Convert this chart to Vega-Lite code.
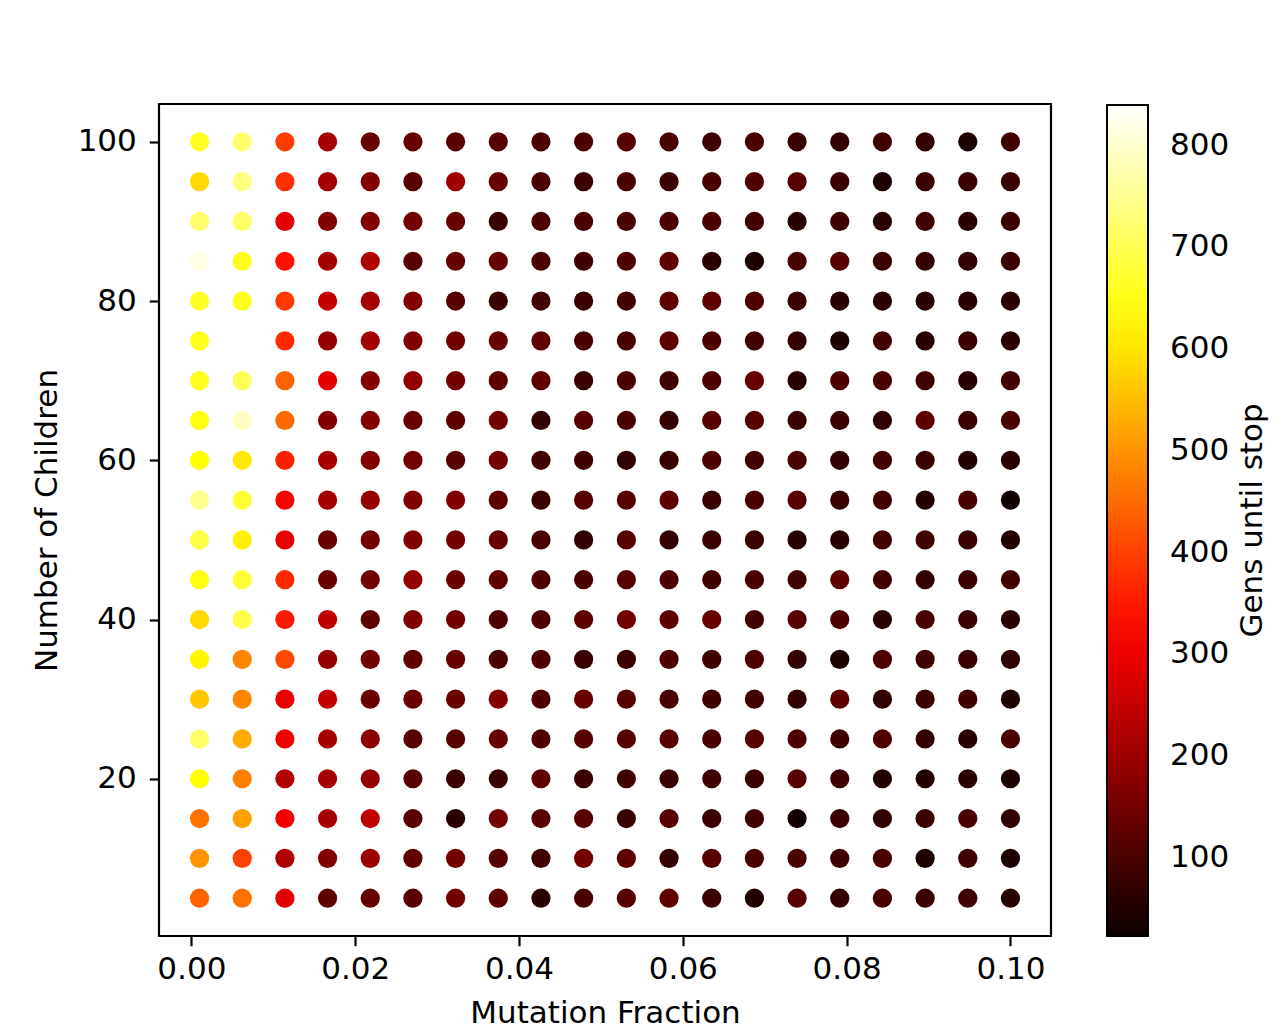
{
"$schema":"https://vega.github.io/schema/vega-lite/v6.json",
"width":892,"height":832,
"autosize":{"type":"none"},
"padding":{"left":159,"top":104,"right":236,"bottom":96},
"background":"white",
"data":{"values":[
{"m":0.001,"n":100,"g":660},{"m":0.00621,"n":100,"g":720},{"m":0.01142,"n":100,"g":395},{"m":0.01663,"n":100,"g":210},{"m":0.02184,"n":100,"g":135},{"m":0.02705,"n":100,"g":135},{"m":0.03226,"n":100,"g":116},{"m":0.03747,"n":100,"g":116},{"m":0.04268,"n":100,"g":100},{"m":0.04789,"n":100,"g":100},{"m":0.05311,"n":100,"g":116},{"m":0.05832,"n":100,"g":97},{"m":0.06353,"n":100,"g":88},{"m":0.06874,"n":100,"g":97},{"m":0.07395,"n":100,"g":79},{"m":0.07916,"n":100,"g":70},{"m":0.08437,"n":100,"g":88},{"m":0.08958,"n":100,"g":70},{"m":0.09479,"n":100,"g":42},{"m":0.1,"n":100,"g":88},
{"m":0.001,"n":95,"g":586},{"m":0.00621,"n":95,"g":735},{"m":0.01142,"n":95,"g":380},{"m":0.01663,"n":95,"g":210},{"m":0.02184,"n":95,"g":170},{"m":0.02705,"n":95,"g":116},{"m":0.03226,"n":95,"g":205},{"m":0.03747,"n":95,"g":135},{"m":0.04268,"n":95,"g":97},{"m":0.04789,"n":95,"g":79},{"m":0.05311,"n":95,"g":97},{"m":0.05832,"n":95,"g":79},{"m":0.06353,"n":95,"g":97},{"m":0.06874,"n":95,"g":105},{"m":0.07395,"n":95,"g":116},{"m":0.07916,"n":95,"g":79},{"m":0.08437,"n":95,"g":42},{"m":0.08958,"n":95,"g":79},{"m":0.09479,"n":95,"g":79},{"m":0.1,"n":95,"g":79},
{"m":0.001,"n":90,"g":720},{"m":0.00621,"n":90,"g":715},{"m":0.01142,"n":90,"g":285},{"m":0.01663,"n":90,"g":170},{"m":0.02184,"n":90,"g":170},{"m":0.02705,"n":90,"g":150},{"m":0.03226,"n":90,"g":135},{"m":0.03747,"n":90,"g":79},{"m":0.04268,"n":90,"g":97},{"m":0.04789,"n":90,"g":97},{"m":0.05311,"n":90,"g":97},{"m":0.05832,"n":90,"g":105},{"m":0.06353,"n":90,"g":105},{"m":0.06874,"n":90,"g":88},{"m":0.07395,"n":90,"g":60},{"m":0.07916,"n":90,"g":88},{"m":0.08437,"n":90,"g":60},{"m":0.08958,"n":90,"g":88},{"m":0.09479,"n":90,"g":60},{"m":0.1,"n":90,"g":79},
{"m":0.001,"n":85,"g":820},{"m":0.00621,"n":85,"g":655},{"m":0.01142,"n":85,"g":340},{"m":0.01663,"n":85,"g":210},{"m":0.02184,"n":85,"g":225},{"m":0.02705,"n":85,"g":116},{"m":0.03226,"n":85,"g":135},{"m":0.03747,"n":85,"g":135},{"m":0.04268,"n":85,"g":97},{"m":0.04789,"n":85,"g":88},{"m":0.05311,"n":85,"g":105},{"m":0.05832,"n":85,"g":125},{"m":0.06353,"n":85,"g":60},{"m":0.06874,"n":85,"g":42},{"m":0.07395,"n":85,"g":97},{"m":0.07916,"n":85,"g":116},{"m":0.08437,"n":85,"g":79},{"m":0.08958,"n":85,"g":70},{"m":0.09479,"n":85,"g":70},{"m":0.1,"n":85,"g":79},
{"m":0.001,"n":80,"g":665},{"m":0.00621,"n":80,"g":655},{"m":0.01142,"n":80,"g":390},{"m":0.01663,"n":80,"g":250},{"m":0.02184,"n":80,"g":210},{"m":0.02705,"n":80,"g":170},{"m":0.03226,"n":80,"g":116},{"m":0.03747,"n":80,"g":79},{"m":0.04268,"n":80,"g":88},{"m":0.04789,"n":80,"g":79},{"m":0.05311,"n":80,"g":88},{"m":0.05832,"n":80,"g":125},{"m":0.06353,"n":80,"g":125},{"m":0.06874,"n":80,"g":105},{"m":0.07395,"n":80,"g":79},{"m":0.07916,"n":80,"g":60},{"m":0.08437,"n":80,"g":60},{"m":0.08958,"n":80,"g":60},{"m":0.09479,"n":80,"g":60},{"m":0.1,"n":80,"g":60},
{"m":0.001,"n":75,"g":655},{"m":0.00621,"n":75,"g":840},{"m":0.01142,"n":75,"g":370},{"m":0.01663,"n":75,"g":190},{"m":0.02184,"n":75,"g":210},{"m":0.02705,"n":75,"g":170},{"m":0.03226,"n":75,"g":150},{"m":0.03747,"n":75,"g":135},{"m":0.04268,"n":75,"g":125},{"m":0.04789,"n":75,"g":97},{"m":0.05311,"n":75,"g":97},{"m":0.05832,"n":75,"g":125},{"m":0.06353,"n":75,"g":105},{"m":0.06874,"n":75,"g":88},{"m":0.07395,"n":75,"g":70},{"m":0.07916,"n":75,"g":42},{"m":0.08437,"n":75,"g":88},{"m":0.08958,"n":75,"g":60},{"m":0.09479,"n":75,"g":79},{"m":0.1,"n":75,"g":60},
{"m":0.001,"n":70,"g":660},{"m":0.00621,"n":70,"g":705},{"m":0.01142,"n":70,"g":440},{"m":0.01663,"n":70,"g":285},{"m":0.02184,"n":70,"g":170},{"m":0.02705,"n":70,"g":190},{"m":0.03226,"n":70,"g":150},{"m":0.03747,"n":70,"g":125},{"m":0.04268,"n":70,"g":125},{"m":0.04789,"n":70,"g":79},{"m":0.05311,"n":70,"g":97},{"m":0.05832,"n":70,"g":88},{"m":0.06353,"n":70,"g":105},{"m":0.06874,"n":70,"g":135},{"m":0.07395,"n":70,"g":60},{"m":0.07916,"n":70,"g":105},{"m":0.08437,"n":70,"g":97},{"m":0.08958,"n":70,"g":88},{"m":0.09479,"n":70,"g":60},{"m":0.1,"n":70,"g":88},
{"m":0.001,"n":65,"g":645},{"m":0.00621,"n":65,"g":790},{"m":0.01142,"n":65,"g":450},{"m":0.01663,"n":65,"g":170},{"m":0.02184,"n":65,"g":170},{"m":0.02705,"n":65,"g":135},{"m":0.03226,"n":65,"g":125},{"m":0.03747,"n":65,"g":150},{"m":0.04268,"n":65,"g":70},{"m":0.04789,"n":65,"g":116},{"m":0.05311,"n":65,"g":97},{"m":0.05832,"n":65,"g":70},{"m":0.06353,"n":65,"g":116},{"m":0.06874,"n":65,"g":116},{"m":0.07395,"n":65,"g":79},{"m":0.07916,"n":65,"g":79},{"m":0.08437,"n":65,"g":70},{"m":0.08958,"n":65,"g":125},{"m":0.09479,"n":65,"g":79},{"m":0.1,"n":65,"g":97},
{"m":0.001,"n":60,"g":635},{"m":0.00621,"n":60,"g":605},{"m":0.01142,"n":60,"g":360},{"m":0.01663,"n":60,"g":215},{"m":0.02184,"n":60,"g":170},{"m":0.02705,"n":60,"g":150},{"m":0.03226,"n":60,"g":116},{"m":0.03747,"n":60,"g":150},{"m":0.04268,"n":60,"g":88},{"m":0.04789,"n":60,"g":88},{"m":0.05311,"n":60,"g":70},{"m":0.05832,"n":60,"g":79},{"m":0.06353,"n":60,"g":105},{"m":0.06874,"n":60,"g":88},{"m":0.07395,"n":60,"g":97},{"m":0.07916,"n":60,"g":70},{"m":0.08437,"n":60,"g":88},{"m":0.08958,"n":60,"g":79},{"m":0.09479,"n":60,"g":50},{"m":0.1,"n":60,"g":60},
{"m":0.001,"n":55,"g":745},{"m":0.00621,"n":55,"g":675},{"m":0.01142,"n":55,"g":320},{"m":0.01663,"n":55,"g":215},{"m":0.02184,"n":55,"g":190},{"m":0.02705,"n":55,"g":170},{"m":0.03226,"n":55,"g":170},{"m":0.03747,"n":55,"g":125},{"m":0.04268,"n":55,"g":79},{"m":0.04789,"n":55,"g":116},{"m":0.05311,"n":55,"g":116},{"m":0.05832,"n":55,"g":125},{"m":0.06353,"n":55,"g":79},{"m":0.06874,"n":55,"g":97},{"m":0.07395,"n":55,"g":116},{"m":0.07916,"n":55,"g":79},{"m":0.08437,"n":55,"g":88},{"m":0.08958,"n":55,"g":50},{"m":0.09479,"n":55,"g":97},{"m":0.1,"n":55,"g":30},
{"m":0.001,"n":50,"g":690},{"m":0.00621,"n":50,"g":615},{"m":0.01142,"n":50,"g":295},{"m":0.01663,"n":50,"g":135},{"m":0.02184,"n":50,"g":150},{"m":0.02705,"n":50,"g":170},{"m":0.03226,"n":50,"g":150},{"m":0.03747,"n":50,"g":135},{"m":0.04268,"n":50,"g":97},{"m":0.04789,"n":50,"g":70},{"m":0.05311,"n":50,"g":116},{"m":0.05832,"n":50,"g":70},{"m":0.06353,"n":50,"g":79},{"m":0.06874,"n":50,"g":79},{"m":0.07395,"n":50,"g":60},{"m":0.07916,"n":50,"g":60},{"m":0.08437,"n":50,"g":88},{"m":0.08958,"n":50,"g":88},{"m":0.09479,"n":50,"g":79},{"m":0.1,"n":50,"g":50},
{"m":0.001,"n":45,"g":645},{"m":0.00621,"n":45,"g":675},{"m":0.01142,"n":45,"g":370},{"m":0.01663,"n":45,"g":140},{"m":0.02184,"n":45,"g":150},{"m":0.02705,"n":45,"g":190},{"m":0.03226,"n":45,"g":140},{"m":0.03747,"n":45,"g":125},{"m":0.04268,"n":45,"g":105},{"m":0.04789,"n":45,"g":97},{"m":0.05311,"n":45,"g":116},{"m":0.05832,"n":45,"g":105},{"m":0.06353,"n":45,"g":88},{"m":0.06874,"n":45,"g":97},{"m":0.07395,"n":45,"g":88},{"m":0.07916,"n":45,"g":125},{"m":0.08437,"n":45,"g":88},{"m":0.08958,"n":45,"g":70},{"m":0.09479,"n":45,"g":79},{"m":0.1,"n":45,"g":88},
{"m":0.001,"n":40,"g":586},{"m":0.00621,"n":40,"g":690},{"m":0.01142,"n":40,"g":350},{"m":0.01663,"n":40,"g":244},{"m":0.02184,"n":40,"g":125},{"m":0.02705,"n":40,"g":170},{"m":0.03226,"n":40,"g":150},{"m":0.03747,"n":40,"g":105},{"m":0.04268,"n":40,"g":105},{"m":0.04789,"n":40,"g":125},{"m":0.05311,"n":40,"g":150},{"m":0.05832,"n":40,"g":125},{"m":0.06353,"n":40,"g":135},{"m":0.06874,"n":40,"g":88},{"m":0.07395,"n":40,"g":116},{"m":0.07916,"n":40,"g":105},{"m":0.08437,"n":40,"g":60},{"m":0.08958,"n":40,"g":97},{"m":0.09479,"n":40,"g":79},{"m":0.1,"n":40,"g":60},
{"m":0.001,"n":35,"g":620},{"m":0.00621,"n":35,"g":485},{"m":0.01142,"n":35,"g":410},{"m":0.01663,"n":35,"g":190},{"m":0.02184,"n":35,"g":150},{"m":0.02705,"n":35,"g":125},{"m":0.03226,"n":35,"g":135},{"m":0.03747,"n":35,"g":97},{"m":0.04268,"n":35,"g":105},{"m":0.04789,"n":35,"g":79},{"m":0.05311,"n":35,"g":79},{"m":0.05832,"n":35,"g":105},{"m":0.06353,"n":35,"g":88},{"m":0.06874,"n":35,"g":105},{"m":0.07395,"n":35,"g":70},{"m":0.07916,"n":35,"g":42},{"m":0.08437,"n":35,"g":105},{"m":0.08958,"n":35,"g":88},{"m":0.09479,"n":35,"g":79},{"m":0.1,"n":35,"g":70},
{"m":0.001,"n":30,"g":565},{"m":0.00621,"n":30,"g":485},{"m":0.01142,"n":30,"g":295},{"m":0.01663,"n":30,"g":250},{"m":0.02184,"n":30,"g":140},{"m":0.02705,"n":30,"g":140},{"m":0.03226,"n":30,"g":140},{"m":0.03747,"n":30,"g":170},{"m":0.04268,"n":30,"g":105},{"m":0.04789,"n":30,"g":135},{"m":0.05311,"n":30,"g":116},{"m":0.05832,"n":30,"g":97},{"m":0.06353,"n":30,"g":88},{"m":0.06874,"n":30,"g":88},{"m":0.07395,"n":30,"g":70},{"m":0.07916,"n":30,"g":125},{"m":0.08437,"n":30,"g":70},{"m":0.08958,"n":30,"g":79},{"m":0.09479,"n":30,"g":88},{"m":0.1,"n":30,"g":42},
{"m":0.001,"n":25,"g":715},{"m":0.00621,"n":25,"g":530},{"m":0.01142,"n":25,"g":305},{"m":0.01663,"n":25,"g":210},{"m":0.02184,"n":25,"g":180},{"m":0.02705,"n":25,"g":116},{"m":0.03226,"n":25,"g":116},{"m":0.03747,"n":25,"g":135},{"m":0.04268,"n":25,"g":105},{"m":0.04789,"n":25,"g":116},{"m":0.05311,"n":25,"g":116},{"m":0.05832,"n":25,"g":116},{"m":0.06353,"n":25,"g":97},{"m":0.06874,"n":25,"g":116},{"m":0.07395,"n":25,"g":105},{"m":0.07916,"n":25,"g":88},{"m":0.08437,"n":25,"g":105},{"m":0.08958,"n":25,"g":70},{"m":0.09479,"n":25,"g":60},{"m":0.1,"n":25,"g":97},
{"m":0.001,"n":20,"g":632},{"m":0.00621,"n":20,"g":477},{"m":0.01142,"n":20,"g":225},{"m":0.01663,"n":20,"g":210},{"m":0.02184,"n":20,"g":190},{"m":0.02705,"n":20,"g":116},{"m":0.03226,"n":20,"g":79},{"m":0.03747,"n":20,"g":79},{"m":0.04268,"n":20,"g":125},{"m":0.04789,"n":20,"g":79},{"m":0.05311,"n":20,"g":88},{"m":0.05832,"n":20,"g":79},{"m":0.06353,"n":20,"g":88},{"m":0.06874,"n":20,"g":79},{"m":0.07395,"n":20,"g":116},{"m":0.07916,"n":20,"g":88},{"m":0.08437,"n":20,"g":50},{"m":0.08958,"n":20,"g":50},{"m":0.09479,"n":20,"g":60},{"m":0.1,"n":20,"g":42},
{"m":0.001,"n":15,"g":460},{"m":0.00621,"n":15,"g":515},{"m":0.01142,"n":15,"g":305},{"m":0.01663,"n":15,"g":210},{"m":0.02184,"n":15,"g":244},{"m":0.02705,"n":15,"g":116},{"m":0.03226,"n":15,"g":60},{"m":0.03747,"n":15,"g":150},{"m":0.04268,"n":15,"g":116},{"m":0.04789,"n":15,"g":116},{"m":0.05311,"n":15,"g":79},{"m":0.05832,"n":15,"g":116},{"m":0.06353,"n":15,"g":79},{"m":0.06874,"n":15,"g":88},{"m":0.07395,"n":15,"g":30},{"m":0.07916,"n":15,"g":79},{"m":0.08437,"n":15,"g":70},{"m":0.08958,"n":15,"g":79},{"m":0.09479,"n":15,"g":97},{"m":0.1,"n":15,"g":70},
{"m":0.001,"n":10,"g":500},{"m":0.00621,"n":10,"g":400},{"m":0.01142,"n":10,"g":225},{"m":0.01663,"n":10,"g":170},{"m":0.02184,"n":10,"g":200},{"m":0.02705,"n":10,"g":125},{"m":0.03226,"n":10,"g":150},{"m":0.03747,"n":10,"g":116},{"m":0.04268,"n":10,"g":88},{"m":0.04789,"n":10,"g":150},{"m":0.05311,"n":10,"g":125},{"m":0.05832,"n":10,"g":70},{"m":0.06353,"n":10,"g":116},{"m":0.06874,"n":10,"g":97},{"m":0.07395,"n":10,"g":97},{"m":0.07916,"n":10,"g":88},{"m":0.08437,"n":10,"g":97},{"m":0.08958,"n":10,"g":42},{"m":0.09479,"n":10,"g":88},{"m":0.1,"n":10,"g":42},
{"m":0.001,"n":5,"g":440},{"m":0.00621,"n":5,"g":460},{"m":0.01142,"n":5,"g":285},{"m":0.01663,"n":5,"g":125},{"m":0.02184,"n":5,"g":135},{"m":0.02705,"n":5,"g":116},{"m":0.03226,"n":5,"g":150},{"m":0.03747,"n":5,"g":125},{"m":0.04268,"n":5,"g":60},{"m":0.04789,"n":5,"g":97},{"m":0.05311,"n":5,"g":116},{"m":0.05832,"n":5,"g":125},{"m":0.06353,"n":5,"g":79},{"m":0.06874,"n":5,"g":50},{"m":0.07395,"n":5,"g":116},{"m":0.07916,"n":5,"g":70},{"m":0.08437,"n":5,"g":97},{"m":0.08958,"n":5,"g":79},{"m":0.09479,"n":5,"g":88},{"m":0.1,"n":5,"g":60}
]},
"layer":[
{"mark":{"type":"circle","size":370,"opacity":1,"strokeWidth":0},
"encoding":{
"x":{"field":"m","type":"quantitative","title":"Mutation Fraction","scale":{"domain":[-0.00395,0.10495],"nice":false,"zero":false},"axis":{"values":[0,0.02,0.04,0.06,0.08,0.1],"format":".2f","labelPadding":9,"titlePadding":14}},
"y":{"field":"n","type":"quantitative","title":"Number of Children","scale":{"domain":[0.25,104.75],"nice":false,"zero":false},"axis":{"values":[20,40,60,80,100],"labelPadding":13,"titlePadding":14}},
"color":{"field":"g","type":"quantitative","title":null,"scale":{"type":"linear","domain":[23,321,632,840],"range":["#0b0000","#ff0000","#ffff00","#ffffff"],"interpolate":"rgb"},
"legend":{"orient":"none","legendX":948,"legendY":1,"direction":"vertical","gradientLength":831,"gradientThickness":41,"gradientStrokeColor":"#000","gradientStrokeWidth":2,"values":[100,200,300,400,500,600,700,800],"labelOverlap":false,"labelOffset":22,"labelFontSize":31,"labelColor":"#000","labelFont":"DejaVu Sans"}}
}},
{"mark":{"type":"circle","opacity":0},
"encoding":{
"y":{"field":"n","type":"quantitative","title":"Gens until stop","scale":{"domain":[0.25,104.75],"nice":false,"zero":false},"axis":{"orient":"right","labels":false,"ticks":false,"domain":false,"grid":false,"offset":0,"titlePadding":186,"titleAngle":-90,"titleBaseline":"top","titleAlign":"center","titleFontSize":31}}
}}
],
"resolve":{"axis":{"y":"independent"}},
"config":{"font":"DejaVu Sans","view":{"stroke":"#000","strokeWidth":2.2},
"axis":{"domain":false,"grid":false,"ticks":true,"tickColor":"#000","tickWidth":2.2,"tickSize":9.7,"labelFontSize":31,"labelColor":"#000","labelFont":"DejaVu Sans","titleFontSize":31,"titleFontWeight":"normal","titleColor":"#000","titleFont":"DejaVu Sans"}}
}
